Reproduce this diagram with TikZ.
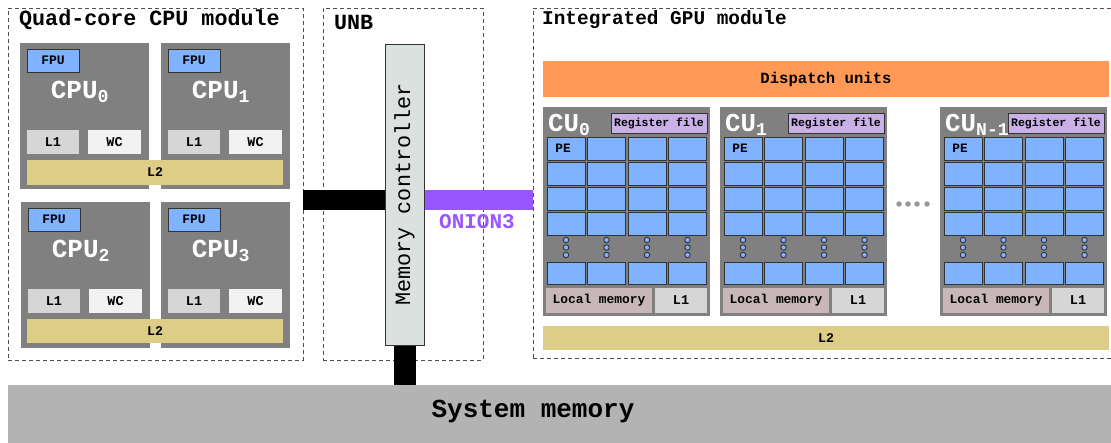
\documentclass[tikz,border=0pt]{standalone}
\usepackage{fontspec}
\setmainfont{Liberation Mono}
\usetikzlibrary{positioning,calc}
\definecolor{cpugray}{HTML}{808080}
\definecolor{peblue}{HTML}{80B3FF}
\definecolor{edge}{HTML}{333333}
\definecolor{lonegray}{HTML}{D6D6D6}
\definecolor{wcwhite}{HTML}{F2F2F2}
\definecolor{ltwokhaki}{HTML}{DECD87}
\definecolor{reglilac}{HTML}{C9B0E8}
\definecolor{lmemrose}{HTML}{C8B7B9}
\definecolor{disporange}{HTML}{FF9955}
\definecolor{onion}{HTML}{9955FF}
\definecolor{mcfill}{HTML}{DBE1DE}
\definecolor{memgray}{HTML}{B3B3B3}
\definecolor{modline}{HTML}{5A4A4A}
\newcommand{\setfs}[1]{\fontsize{#1}{#1}\selectfont\bfseries}
\tikzset{
  blk/.style={anchor=north west,inner sep=0pt,outer sep=0pt},
  modbox/.style={blk,draw=modline,dash pattern=on 4pt off 3pt,line width=0.8pt},
  title/.style={anchor=west,inner sep=0pt,font=\setfs{21.7}},
  cpubox/.style={blk,fill=cpugray,minimum width=129pt,minimum height=146pt},
  fpubox/.style={blk,fill=peblue,draw=edge,line width=1pt,minimum width=52pt,minimum height=23pt,font=\setfs{13}},
  lonebox/.style={blk,fill=lonegray,minimum width=52pt,minimum height=24pt,font=\setfs{13.5}},
  wcbox/.style={blk,fill=wcwhite,minimum width=53pt,minimum height=24pt,font=\setfs{13.5}},
  ltwobox/.style={blk,fill=ltwokhaki,font=\setfs{13.3}},
  cpulabel/.style={inner sep=0pt,text=white,font=\setfs{26}},
  cubox/.style={blk,fill=cpugray,minimum width=167pt,minimum height=209pt},
  culabel/.style={anchor=west,inner sep=0pt,text=white,font=\setfs{25.8}},
  regbox/.style={blk,fill=reglilac,draw=edge,line width=1pt,minimum width=96pt,minimum height=20pt,font=\setfs{11.5}},
  pebox/.style={blk,fill=peblue,draw=edge,line width=1pt,minimum width=38pt,minimum height=23pt},
  pedot/.style={circle,fill=peblue,draw=edge,line width=0.9pt,minimum size=5.5pt,inner sep=0pt},
  gapdot/.style={circle,fill=black!40,minimum size=5.5pt,inner sep=0pt},
  lmembox/.style={blk,fill=lmemrose,minimum width=106pt,minimum height=25pt,font=\setfs{12.9}},
  gpulone/.style={blk,fill=lonegray,minimum width=52pt,minimum height=25pt,font=\setfs{13.5}},
  bus/.style={draw=black,line width=20pt},
}
\begin{document}
\begin{tikzpicture}[x=1pt,y=-1pt]
\useasboundingbox (0,0) rectangle (1111,442);

% modules
\node[modbox,minimum width=295pt,minimum height=352pt] (cpumod) at (8,8) {};
\node[title] (cputitle) at (19,20) {Quad-core CPU module};
\node[modbox,minimum width=160pt,minimum height=352pt] (unb) at (323,8) {};
\node[title] (unbtitle) at (334,22) {UNB};
\node[modbox,minimum width=590pt,minimum height=350pt] (gpumod) at (533,8) {};
\node[title,font=\setfs{19.4}] (gputitle) at (542,20) {Integrated GPU module};

% CPU cores
\foreach \i/\x/\y in {0/20/43,1/161/43,2/21/202,3/161/202}{
  \node[cpubox] (cpu\i) at (\x,\y) {};
  \node[fpubox] (fpu\i) at (\x+7,\y+6) {FPU};
  \node[cpulabel] (cpuname\i) at (\x+60,\y+49) {CPU\textsubscript{\i}};
  \node[lonebox] (cpulone\i) at (\x+7,\y+87) {L1};
  \node[wcbox] (wc\i) at (\x+68,\y+87) {WC};
}
\node[ltwobox,minimum width=256pt,minimum height=25pt] (cpultwoa) at (27,160) {L2};
\node[ltwobox,minimum width=256pt,minimum height=24pt] (cpultwob) at (27,319) {L2};

% system memory
\node[blk,fill=memgray,minimum width=1107pt,minimum height=60pt] (sysmem) at (8,385) {};
\node[inner sep=0pt,font=\setfs{26}] (smtext) at (533,411) {System memory};

% UNB links
\node[blk,minimum width=39pt,minimum height=301pt] (mc) at (385,44) {};
\coordinate (busy) at (0,200);
\draw[bus] (cpumod.east |- busy) -- (mc.west |- busy);
\draw[bus,draw=onion] (mc.east |- busy) -- (gpumod.west |- busy);
\node[inner sep=0pt,text=onion,font=\setfs{21}] (onionname) at (477,222) {ONION3};
\draw[bus,line width=22pt] (mc.south) -- (mc.south |- sysmem.north);
\node[blk,fill=mcfill,draw=edge,line width=1pt,minimum width=39pt,minimum height=301pt] (mcbox) at (385,44) {};
\node[rotate=90,inner sep=0pt,font=\fontsize{21.8}{21.8}\selectfont] (mctext) at (mcbox.center) {Memory controller};

% GPU
\node[blk,fill=disporange,minimum width=566pt,minimum height=36pt,font=\setfs{15.6}] (disp) at (543,61) {Dispatch units};
\foreach \k/\x/\n in {0/543/0,1/720/1,2/940/{N-1}}{
  \node[cubox] (cu\k) at (\x,107) {};
  \node[culabel] (cuname\k) at (\x+5,125) {CU\textsubscript{\n}};
  \node[regbox] (reg\k) at (\x+68,113) {Register file};
  \foreach \c in {0,...,3}{
    \foreach \r in {0,...,3}
      \node[pebox] (pe\k-\c-\r) at (\x+4+\c*40.5,137+\r*25) {};
    \node[pebox,minimum height=22pt] (pe\k-\c-4) at (\x+4+\c*40.5,262) {};
    \foreach \d in {0,1,2}
      \node[pedot] (dot\k-\c-\d) at (\x+23+\c*40.5,240+\d*7.5) {};
  }
  \node[inner sep=0pt,font=\setfs{12.8}] (pename\k) at ([xshift=-3pt]pe\k-0-0.center) {PE};
  \node[lmembox] (lmem\k) at (\x+3,288) {Local memory};
  \node[gpulone] (gpulone\k) at (\x+112,288) {L1};
}
\foreach \g/\gx in {1/899,2/908,3/917,4/927}
  \node[gapdot] (gap\g) at (\gx,204) {};
\node[ltwobox,minimum width=566pt,minimum height=24pt] (gpultwo) at (543,326) {L2};

\end{tikzpicture}
\end{document}
